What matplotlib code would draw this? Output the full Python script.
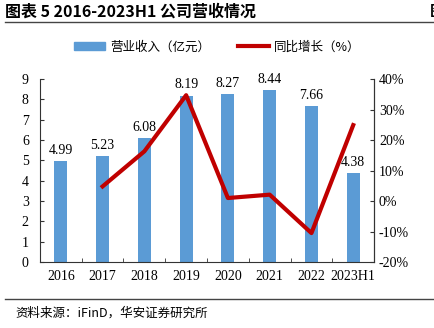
import numpy as np
import matplotlib.pyplot as plt
from matplotlib.lines import Line2D
from matplotlib.patches import Patch

plt.rcParams['font.family'] = ['Liberation Serif', 'Noto Sans CJK SC']

# 数据
years = ['2016', '2017', '2018', '2019', '2020', '2021', '2022', '2023H1']
revenue = [4.99, 5.23, 6.08, 8.19, 8.27, 8.44, 7.66, 4.38]
growth = [np.nan, 4.8, 16.3, 34.7, 1.0, 2.1, -10.5, 24.9]
left_ticks = [0, 1, 2, 3, 4, 5, 6, 7, 8, 9]
right_ticks = [-20, -10, 0, 10, 20, 30, 40]

bar_color = '#5B9BD5'
line_color = '#C00000'
cjk = ['Noto Sans CJK SC', 'DejaVu Sans']

fig = plt.figure(figsize=(4.34, 3.28), dpi=100)
ax = fig.add_axes([0.092, 0.201, 0.770, 0.558])
x = np.arange(len(years))

ax.bar(x, revenue, width=0.31, color=bar_color, zorder=2)
for xi, v in zip(x, revenue):
    ax.text(xi, v + 0.2, f'{v:.2f}', ha='center', va='bottom', fontsize=10, zorder=4)

ax.set_xlim(-0.5, len(years) - 0.5)
ax.set_ylim(0, 9)
ax.set_yticks(left_ticks)
ax.set_xticks(x)
ax.set_xticklabels(years, fontsize=10)
ax.set_xticks(np.arange(len(years) + 1) - 0.5, minor=True)
ax.tick_params(axis='x', which='major', length=0, pad=6)
ax.tick_params(axis='x', which='minor', direction='in', length=3, color='#333333')
ax.tick_params(axis='y', direction='in', length=3, labelsize=10, color='#333333', pad=8)

ax2 = ax.twinx()
ax2.plot(x, growth, color=line_color, lw=3, zorder=3)
ax2.set_ylim(-20, 40)
ax2.set_yticks(right_ticks)
ax2.set_yticklabels([f'{t}%' for t in right_ticks])
ax2.tick_params(axis='y', direction='in', length=3, labelsize=10, color='#333333')

for a in (ax, ax2):
    a.spines['top'].set_visible(False)
    for s in ('left', 'right', 'bottom'):
        a.spines[s].set_color('#333333')
ax2.spines['left'].set_visible(False)
ax2.spines['bottom'].set_visible(False)

# 图例
handles = [Patch(color=bar_color), Line2D([0], [0], color=line_color, lw=3)]
labels = ['营业收入（亿元）', '同比增长（%）']
fig.legend(handles, labels, loc='center', bbox_to_anchor=(0.5, 0.857), ncol=2,
           frameon=False, prop={'family': cjk, 'size': 9}, handlelength=2.5,
           handleheight=0.5, handletextpad=0.4, columnspacing=2.2)

# 标题与来源
fig.text(0.012, 0.965, '图表 5 2016-2023H1 公司营收情况', fontsize=11.5, fontweight='bold',
         family=['Noto Sans CJK SC', 'DejaVu Sans'], va='center')
fig.text(0.99, 0.965, '图', fontsize=11, fontweight='bold', family=cjk, va='center')
fig.add_artist(Line2D([0.012, 1.0], [0.933, 0.933], color='#444444', lw=1))
fig.add_artist(Line2D([0.012, 1.0], [0.088, 0.088], color='#444444', lw=1))
fig.text(0.035, 0.045, '资料来源：iFinD，华安证券研究所', fontsize=9, family=cjk, va='center')

fig.savefig('out.png', dpi=100)
